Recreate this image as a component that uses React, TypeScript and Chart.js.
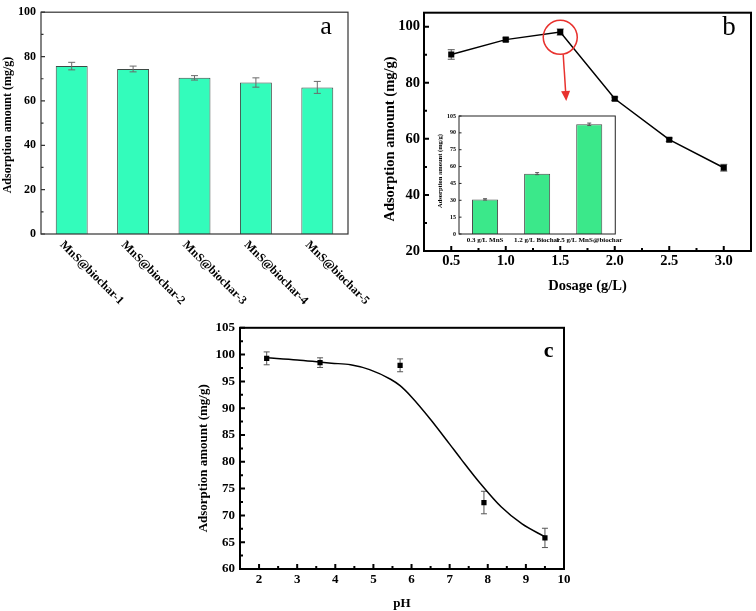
import React, { useEffect, useRef } from 'react';
import { Chart, registerables } from 'chart.js';

Chart.register(...registerables);

// (a) adsorption by sample
const samples = ['MnS@biochar-1', 'MnS@biochar-2', 'MnS@biochar-3', 'MnS@biochar-4', 'MnS@biochar-5'];
const sampleAmount = [75.7, 74.4, 70.4, 68.3, 66.1];
const sampleError = [1.7, 1.3, 1.0, 2.1, 2.7];
const sampleTicks = [0, 20, 40, 60, 80, 100];
const sampleMinor = [10, 30, 50, 70, 90];

// (b) adsorption vs dosage
const dosage = [0.5, 1.0, 1.5, 2.0, 2.5, 3.0];
const dosageAmount = [90.1, 95.4, 98.1, 74.3, 59.7, 49.7];
const dosageError = [1.7, 0.6, 1.1, 0.6, 0.6, 1.2];
const dosageTicksX = [0.5, 1.0, 1.5, 2.0, 2.5, 3.0];
const dosageMinorX = [0.75, 1.25, 1.75, 2.25, 2.75];
const dosageTicksY = [20, 40, 60, 80, 100];
const dosageMinorY = [30, 50, 70, 90];

// (b) inset
const mixes = ['0.3 g/L MnS', '1.2 g/L Biochar', '1.5 g/L MnS@biochar'];
const mixAmount = [30.8, 53.7, 97.6];
const mixError = [0.6, 0.9, 1.1];
const mixTicks = [0, 15, 30, 45, 60, 75, 90, 105];

// (c) adsorption vs pH
const ph = [2.2, 3.6, 5.7, 7.9, 9.5];
const phAmount = [99.3, 98.5, 98.0, 72.4, 65.8];
const phError = [1.2, 0.9, 1.2, 2.1, 1.8];
const fitPh = [2.2, 3.0, 3.6, 3.9, 4.4, 4.9, 5.45, 5.7, 6.0, 6.5, 7.0, 7.3, 7.8, 8.35, 8.9, 9.5];
const fitAmount = [99.4, 99.0, 98.6, 98.4, 98.1, 97.2, 95.4, 94.2, 92.1, 87.9, 83.3, 80.5, 76.0, 71.6, 68.4, 66.0];
const phTicksX = [2, 3, 4, 5, 6, 7, 8, 9, 10];
const phMinorX = [2.5, 3.5, 4.5, 5.5, 6.5, 7.5, 8.5, 9.5];
const phTicksY = [60, 65, 70, 75, 80, 85, 90, 95, 100, 105];
const phMinorY = [62.5, 67.5, 72.5, 77.5, 82.5, 87.5, 92.5, 97.5, 102.5];

const serif = '"Liberation Serif", "Times New Roman", serif';
const bold = (size: number) => ({ family: serif, size, weight: 'bold' as const });

type Marks = { xMajor?: number[]; xMinor?: number[]; yMajor?: number[]; yMinor?: number[] };

// box round the plot area with inward ticks
const framePlugin = (color: string, width: number, marks: Marks, majorLen: number, minorLen: number) => ({
  id: 'frame',
  afterDraw(chart: Chart) {
    const { ctx, chartArea: a, scales } = chart;
    ctx.save();
    ctx.strokeStyle = color;
    ctx.lineWidth = width;
    ctx.beginPath();
    const xt = (vals: number[] | undefined, len: number) =>
      (vals || []).forEach((v) => {
        const p = scales.x.getPixelForValue(v);
        ctx.moveTo(p, a.bottom);
        ctx.lineTo(p, a.bottom - len);
      });
    const yt = (vals: number[] | undefined, len: number) =>
      (vals || []).forEach((v) => {
        const p = scales.y.getPixelForValue(v);
        ctx.moveTo(a.left, p);
        ctx.lineTo(a.left + len, p);
      });
    xt(marks.xMajor, majorLen);
    xt(marks.xMinor, minorLen);
    yt(marks.yMajor, majorLen);
    yt(marks.yMinor, minorLen);
    ctx.stroke();
    ctx.strokeRect(a.left, a.top, a.right - a.left, a.bottom - a.top);
    ctx.restore();
  },
});

const errorPlugin = (values: number[], errors: number[], color: string, cap: number, front: boolean) => {
  const draw = (chart: Chart) => {
    const { ctx } = chart;
    const y = chart.scales.y;
    ctx.save();
    ctx.strokeStyle = color;
    ctx.lineWidth = 1;
    ctx.beginPath();
    chart.getDatasetMeta(0).data.forEach((el, i) => {
      const top = y.getPixelForValue(values[i] + errors[i]);
      const bot = y.getPixelForValue(values[i] - errors[i]);
      ctx.moveTo(el.x, top);
      ctx.lineTo(el.x, bot);
      ctx.moveTo(el.x - cap / 2, top);
      ctx.lineTo(el.x + cap / 2, top);
      ctx.moveTo(el.x - cap / 2, bot);
      ctx.lineTo(el.x + cap / 2, bot);
    });
    ctx.stroke();
    ctx.restore();
  };
  return front ? { id: 'errors', afterDatasetsDraw: draw } : { id: 'errors', beforeDatasetsDraw: draw };
};

type Label = { text: string; x: number; y: number; font: string; angle?: number; align?: CanvasTextAlign };

const textPlugin = (labels: (chart: Chart) => Label[]) => ({
  id: 'texts',
  afterDraw(chart: Chart) {
    const { ctx } = chart;
    labels(chart).forEach((l) => {
      ctx.save();
      ctx.translate(l.x, l.y);
      ctx.rotate(l.angle || 0);
      ctx.font = l.font;
      ctx.fillStyle = '#000';
      ctx.textAlign = l.align || 'center';
      ctx.textBaseline = 'middle';
      ctx.fillText(l.text, 0, 0);
      ctx.restore();
    });
  },
});

// red circle and arrow pointing at the inset
const calloutPlugin = {
  id: 'callout',
  afterDraw(chart: Chart) {
    const { ctx, scales } = chart;
    const px = (v: number) => scales.x.getPixelForValue(v);
    const py = (v: number) => scales.y.getPixelForValue(v);
    ctx.save();
    ctx.strokeStyle = '#e8322e';
    ctx.fillStyle = '#e8322e';
    ctx.lineWidth = 1.5;
    ctx.beginPath();
    ctx.arc(px(1.5), py(96.2), 17, 0, Math.PI * 2);
    ctx.stroke();
    const x1 = px(1.527), y1 = py(90.2), x2 = px(1.555), y2 = py(73.5);
    const ang = Math.atan2(y2 - y1, x2 - x1);
    ctx.beginPath();
    ctx.moveTo(x1, y1);
    ctx.lineTo(x2 - 9 * Math.cos(ang), y2 - 9 * Math.sin(ang));
    ctx.stroke();
    ctx.beginPath();
    ctx.moveTo(x2, y2);
    ctx.lineTo(x2 - 10 * Math.cos(ang) + 4.5 * Math.sin(ang), y2 - 10 * Math.sin(ang) - 4.5 * Math.cos(ang));
    ctx.lineTo(x2 - 10 * Math.cos(ang) - 4.5 * Math.sin(ang), y2 - 10 * Math.sin(ang) + 4.5 * Math.cos(ang));
    ctx.closePath();
    ctx.fill();
    ctx.restore();
  },
};

// grid lines and tick marks are drawn by framePlugin
const plain = { grid: { display: false, drawTicks: false }, border: { display: false } };

export default function App() {
  const refA = useRef<HTMLCanvasElement>(null);
  const refB = useRef<HTMLCanvasElement>(null);
  const refInset = useRef<HTMLCanvasElement>(null);
  const refC = useRef<HTMLCanvasElement>(null);

  useEffect(() => {
    const charts: Chart[] = [];

    if (refA.current) {
      charts.push(new Chart(refA.current, {
        type: 'bar',
        data: {
          labels: samples,
          datasets: [{
            data: sampleAmount,
            backgroundColor: '#33fcbb',
            borderColor: '#3d4a45',
            borderWidth: 1,
            barPercentage: 0.52,
            categoryPercentage: 1,
          }],
        },
        options: {
          responsive: false,
          animation: false,
          layout: { padding: { top: 6, right: 24, left: 0, bottom: 0 } },
          plugins: { legend: { display: false }, tooltip: { enabled: false } },
          scales: {
            x: { ...plain, ticks: { display: false }, afterFit: (s: any) => { s.height = 76; } },
            y: {
              ...plain,
              min: 0,
              max: 100,
              afterBuildTicks: (s: any) => { s.ticks = sampleTicks.map((value) => ({ value })); },
              afterFit: (s: any) => { s.width = 41; },
              ticks: { font: bold(12), color: '#000', padding: 5 },
            },
          },
        },
        plugins: [
          errorPlugin(sampleAmount, sampleError, '#6a6a6a', 7, true),
          framePlugin('#333', 1.2, { yMajor: sampleTicks, yMinor: sampleMinor }, 4, 2.5),
          textPlugin((chart) => [
            { text: 'Adsorption amount (mg/g)', x: 8.3, y: 125, font: `bold 12px ${serif}`, angle: -Math.PI / 2 },
            { text: 'a', x: 326, y: 27, font: `26px ${serif}` },
            ...samples.map((s, i) => ({
              text: s,
              x: chart.scales.x.getPixelForValue(i) - 10,
              y: chart.chartArea.bottom + 9,
              font: `bold 12px ${serif}`,
              angle: Math.PI / 4,
              align: 'left' as CanvasTextAlign,
            })),
          ]),
        ],
      }));
    }

    if (refB.current) {
      charts.push(new Chart(refB.current, {
        type: 'scatter',
        data: {
          datasets: [{
            data: dosage.map((x, i) => ({ x, y: dosageAmount[i] })),
            showLine: true,
            borderColor: '#000',
            borderWidth: 1.5,
            backgroundColor: '#000',
            pointStyle: 'rect',
            pointRadius: 4.3,
            pointBorderWidth: 0,
          }],
        },
        options: {
          responsive: false,
          animation: false,
          layout: { padding: { top: 6, right: 5, left: 0, bottom: 0 } },
          plugins: { legend: { display: false }, tooltip: { enabled: false } },
          scales: {
            x: {
              ...plain,
              min: 0.25,
              max: 3.25,
              afterBuildTicks: (s: any) => { s.ticks = dosageTicksX.map((value) => ({ value })); },
              afterFit: (s: any) => { s.height = 59; },
              ticks: { font: bold(14.5), color: '#000', padding: 2, callback: (v: any) => Number(v).toFixed(1) },
              title: { display: true, text: 'Dosage (g/L)', font: bold(14.5), color: '#000', padding: { top: 0, bottom: 15 } },
            },
            y: {
              ...plain,
              min: 20,
              max: 105,
              afterBuildTicks: (s: any) => { s.ticks = dosageTicksY.map((value) => ({ value })); },
              afterFit: (s: any) => { s.width = 49; },
              ticks: { font: bold(14.5), color: '#000', padding: 4 },
            },
          },
        },
        plugins: [
          errorPlugin(dosageAmount, dosageError, '#555', 7, false),
          framePlugin('#000', 2, { xMajor: dosageTicksX, xMinor: dosageMinorX, yMajor: dosageTicksY, yMinor: dosageMinorY }, 5, 3),
          calloutPlugin,
          textPlugin(() => [
            { text: 'Adsorption amount (mg/g)', x: 15.5, y: 139, font: `bold 14.5px ${serif}`, angle: -Math.PI / 2 },
            { text: 'b', x: 354, y: 28, font: `27px ${serif}` },
          ]),
        ],
      }));
    }

    if (refInset.current) {
      charts.push(new Chart(refInset.current, {
        type: 'bar',
        data: {
          labels: mixes,
          datasets: [{
            data: mixAmount,
            backgroundColor: '#3be88a',
            borderColor: '#4b4b4b',
            borderWidth: 1,
            barPercentage: 0.5,
            categoryPercentage: 1,
          }],
        },
        options: {
          responsive: false,
          animation: false,
          layout: { padding: { top: 8, right: 7, left: 0, bottom: 0 } },
          plugins: { legend: { display: false }, tooltip: { enabled: false } },
          scales: {
            x: {
              ...plain,
              afterFit: (s: any) => { s.height = 14; },
              ticks: { font: bold(7), color: '#000', padding: 1.5, autoSkip: false, maxRotation: 0, minRotation: 0 },
            },
            y: {
              ...plain,
              min: 0,
              max: 105,
              afterBuildTicks: (s: any) => { s.ticks = mixTicks.map((value) => ({ value })); },
              afterFit: (s: any) => { s.width = 29; },
              ticks: { font: bold(6), color: '#000', padding: 3 },
            },
          },
        },
        plugins: [
          errorPlugin(mixAmount, mixError, '#555', 4, true),
          framePlugin('#222', 1, { yMajor: mixTicks }, 2.5, 1.5),
          textPlugin(() => [
            { text: 'Adsorption amount (mg/g)', x: 10.7, y: 63, font: `bold 6.5px ${serif}`, angle: -Math.PI / 2 },
          ]),
        ],
      }));
    }

    if (refC.current) {
      charts.push(new Chart(refC.current, {
        type: 'scatter',
        data: {
          datasets: [
            {
              data: ph.map((x, i) => ({ x, y: phAmount[i] })),
              backgroundColor: '#000',
              pointStyle: 'rect',
              pointRadius: 3.7,
              pointBorderWidth: 0,
            },
            {
              data: fitPh.map((x, i) => ({ x, y: fitAmount[i] })),
              showLine: true,
              borderColor: '#000',
              borderWidth: 1.5,
              pointRadius: 0,
              cubicInterpolationMode: 'monotone',
            },
          ],
        },
        options: {
          responsive: false,
          animation: false,
          layout: { padding: { top: 12, right: 36, left: 0, bottom: 0 } },
          plugins: { legend: { display: false }, tooltip: { enabled: false } },
          scales: {
            x: {
              ...plain,
              min: 1.5,
              max: 10,
              afterBuildTicks: (s: any) => { s.ticks = phTicksX.map((value) => ({ value })); },
              afterFit: (s: any) => { s.height = 42; },
              ticks: { font: bold(13), color: '#000', padding: 3 },
              title: { display: true, text: 'pH', font: bold(13), color: '#000', padding: { top: 0, bottom: 0 } },
            },
            y: {
              ...plain,
              min: 60,
              max: 105,
              afterBuildTicks: (s: any) => { s.ticks = phTicksY.map((value) => ({ value })); },
              afterFit: (s: any) => { s.width = 55; },
              ticks: { font: bold(13), color: '#000', padding: 5 },
            },
          },
        },
        plugins: [
          errorPlugin(phAmount, phError, '#555', 6, false),
          framePlugin('#000', 2, { xMajor: phTicksX, xMinor: phMinorX, yMajor: phTicksY, yMinor: phMinorY }, 5, 3),
          textPlugin(() => [
            { text: 'Adsorption amount (mg/g)', x: 18.3, y: 143.3, font: `bold 13px ${serif}`, angle: -Math.PI / 2 },
            { text: 'c', x: 363.7, y: 36, font: `bold 22px ${serif}` },
          ]),
        ],
      }));
    }

    return () => charts.forEach((c) => c.destroy());
  }, []);

  const place = (left: number, top: number, w: number, h: number): React.CSSProperties => ({
    position: 'absolute', left, top, width: w, height: h,
  });

  return (
    <div style={{ position: 'absolute', left: 0, top: 0, width: 756, height: 611, background: '#fff' }}>
      <canvas ref={refA} width={372} height={310} style={place(0, 0, 372, 310)} />
      <canvas ref={refB} width={381} height={310} style={place(375, 0, 381, 310)} />
      <canvas ref={refInset} width={195} height={140} style={place(430, 108, 195, 140)} />
      <canvas ref={refC} width={415} height={296} style={place(185, 315, 415, 296)} />
    </div>
  );
}
